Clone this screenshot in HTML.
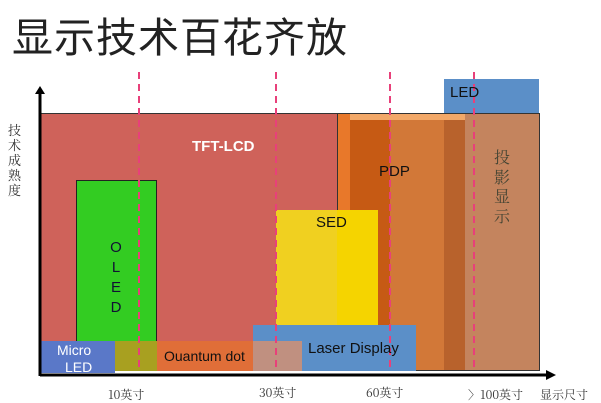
<!DOCTYPE html>
<html><head><meta charset="utf-8"><style>
body{margin:0;width:601px;height:403px;background:#fff;position:relative;overflow:hidden;font-family:"Liberation Sans","Noto Sans CJK SC",sans-serif}
.a{position:absolute}
.t{position:absolute;white-space:nowrap}
.cj{font-family:"Noto Serif CJK SC","Noto Sans CJK SC",serif;color:#333}
</style></head><body>
<div class="t" style="left:12px;top:4px;font-size:41px;color:#222;font-family:'Noto Sans CJK SC',sans-serif;letter-spacing:1px">显示技术百花齐放</div>

<div class="a" style="left:40px;top:113px;width:298px;height:258px;background:#cf625a;border:1px solid #333;box-sizing:border-box"></div>
<div class="a" style="left:337px;top:113px;width:203px;height:258px;background:#c4845e;border:1px solid #333;box-sizing:border-box"></div>
<div class="a" style="left:338px;top:114px;width:127px;height:6px;background:#f2a868"></div>
<div class="a" style="left:338px;top:114px;width:12px;height:256px;background:#e8782a"></div>
<div class="a" style="left:350px;top:120px;width:40px;height:250px;background:#c65a14"></div>
<div class="a" style="left:390px;top:120px;width:54px;height:250px;background:#d27838"></div>
<div class="a" style="left:444px;top:120px;width:21px;height:250px;background:#b8622c"></div>
<div class="a" style="left:444px;top:79px;width:95px;height:34px;background:#5b8fc8"></div>

<div class="a" style="left:76px;top:180px;width:81px;height:191px;background:#33cc22;border:1px solid #222;box-sizing:border-box"></div>
<div class="a" style="left:276px;top:210px;width:102px;height:116px;background:#f0d020"></div>
<div class="a" style="left:337px;top:210px;width:41px;height:116px;background:#f5d400"></div>
<div class="a" style="left:253px;top:325px;width:163px;height:46px;background:#5b8fc8"></div>
<div class="a" style="left:40px;top:341px;width:75px;height:32px;background:#5a78c8"></div>
<div class="a" style="left:115px;top:341px;width:42px;height:30px;background:#a8a020"></div>
<div class="a" style="left:157px;top:341px;width:96px;height:30px;background:#e06e38"></div>
<div class="a" style="left:253px;top:341px;width:49px;height:30px;background:#c09080"></div>

<svg class="a" style="left:0;top:0" width="601" height="403">
<line x1="40" y1="376" x2="40" y2="92" stroke="#000" stroke-width="3"/>
<polygon points="35,94 45,94 40,86" fill="#000"/>
<line x1="40" y1="375" x2="548" y2="375" stroke="#000" stroke-width="3"/>
<polygon points="546,370 546,380 556,375" fill="#000"/>
<g stroke="#e8407a" stroke-width="2" stroke-dasharray="7,5">
<line x1="139" y1="72" x2="139" y2="372"/>
<line x1="276" y1="72" x2="276" y2="372"/>
<line x1="390" y1="72" x2="390" y2="372"/>
<line x1="474" y1="72" x2="474" y2="372"/>
</g>
</svg>

<div class="t" style="left:192px;top:138px;font-size:15px;font-weight:bold;color:#fff">TFT-LCD</div>
<div class="t" style="left:108px;top:238px;font-size:15px;line-height:20px;color:#113;width:16px;text-align:center">O<br>L<br>E<br>D</div>
<div class="t" style="left:379px;top:163px;font-size:15px;color:#111">PDP</div>
<div class="t" style="left:316px;top:214px;font-size:15px;color:#111">SED</div>
<div class="t" style="left:308px;top:340px;font-size:15px;color:#111">Laser Display</div>
<div class="t" style="left:450px;top:84px;font-size:15px;color:#111">LED</div>
<div class="t" style="left:164px;top:348px;font-size:14px;color:#111">Ouantum dot</div>
<div class="t" style="left:57px;top:342px;font-size:14px;color:#fff">Micro</div>
<div class="t" style="left:65px;top:359px;font-size:14px;color:#fff">LED</div>
<div class="t cj" style="left:494px;top:147px;font-size:16px;line-height:19.5px;width:18px;color:#443">投<br>影<br>显<br>示</div>
<div class="t cj" style="left:8px;top:122px;font-size:13px;line-height:15px;width:14px">技<br>术<br>成<br>熟<br>度</div>
<div class="t cj" style="left:108px;top:386px;font-size:12px">10英寸</div>
<div class="t cj" style="left:259px;top:384px;font-size:12px">30英寸</div>
<div class="t cj" style="left:366px;top:384px;font-size:12px">60英寸</div>
<div class="t cj" style="left:468px;top:386px;font-size:12px">〉100英寸</div>
<div class="t cj" style="left:540px;top:386px;font-size:12px">显示尺寸</div>
</body></html>
